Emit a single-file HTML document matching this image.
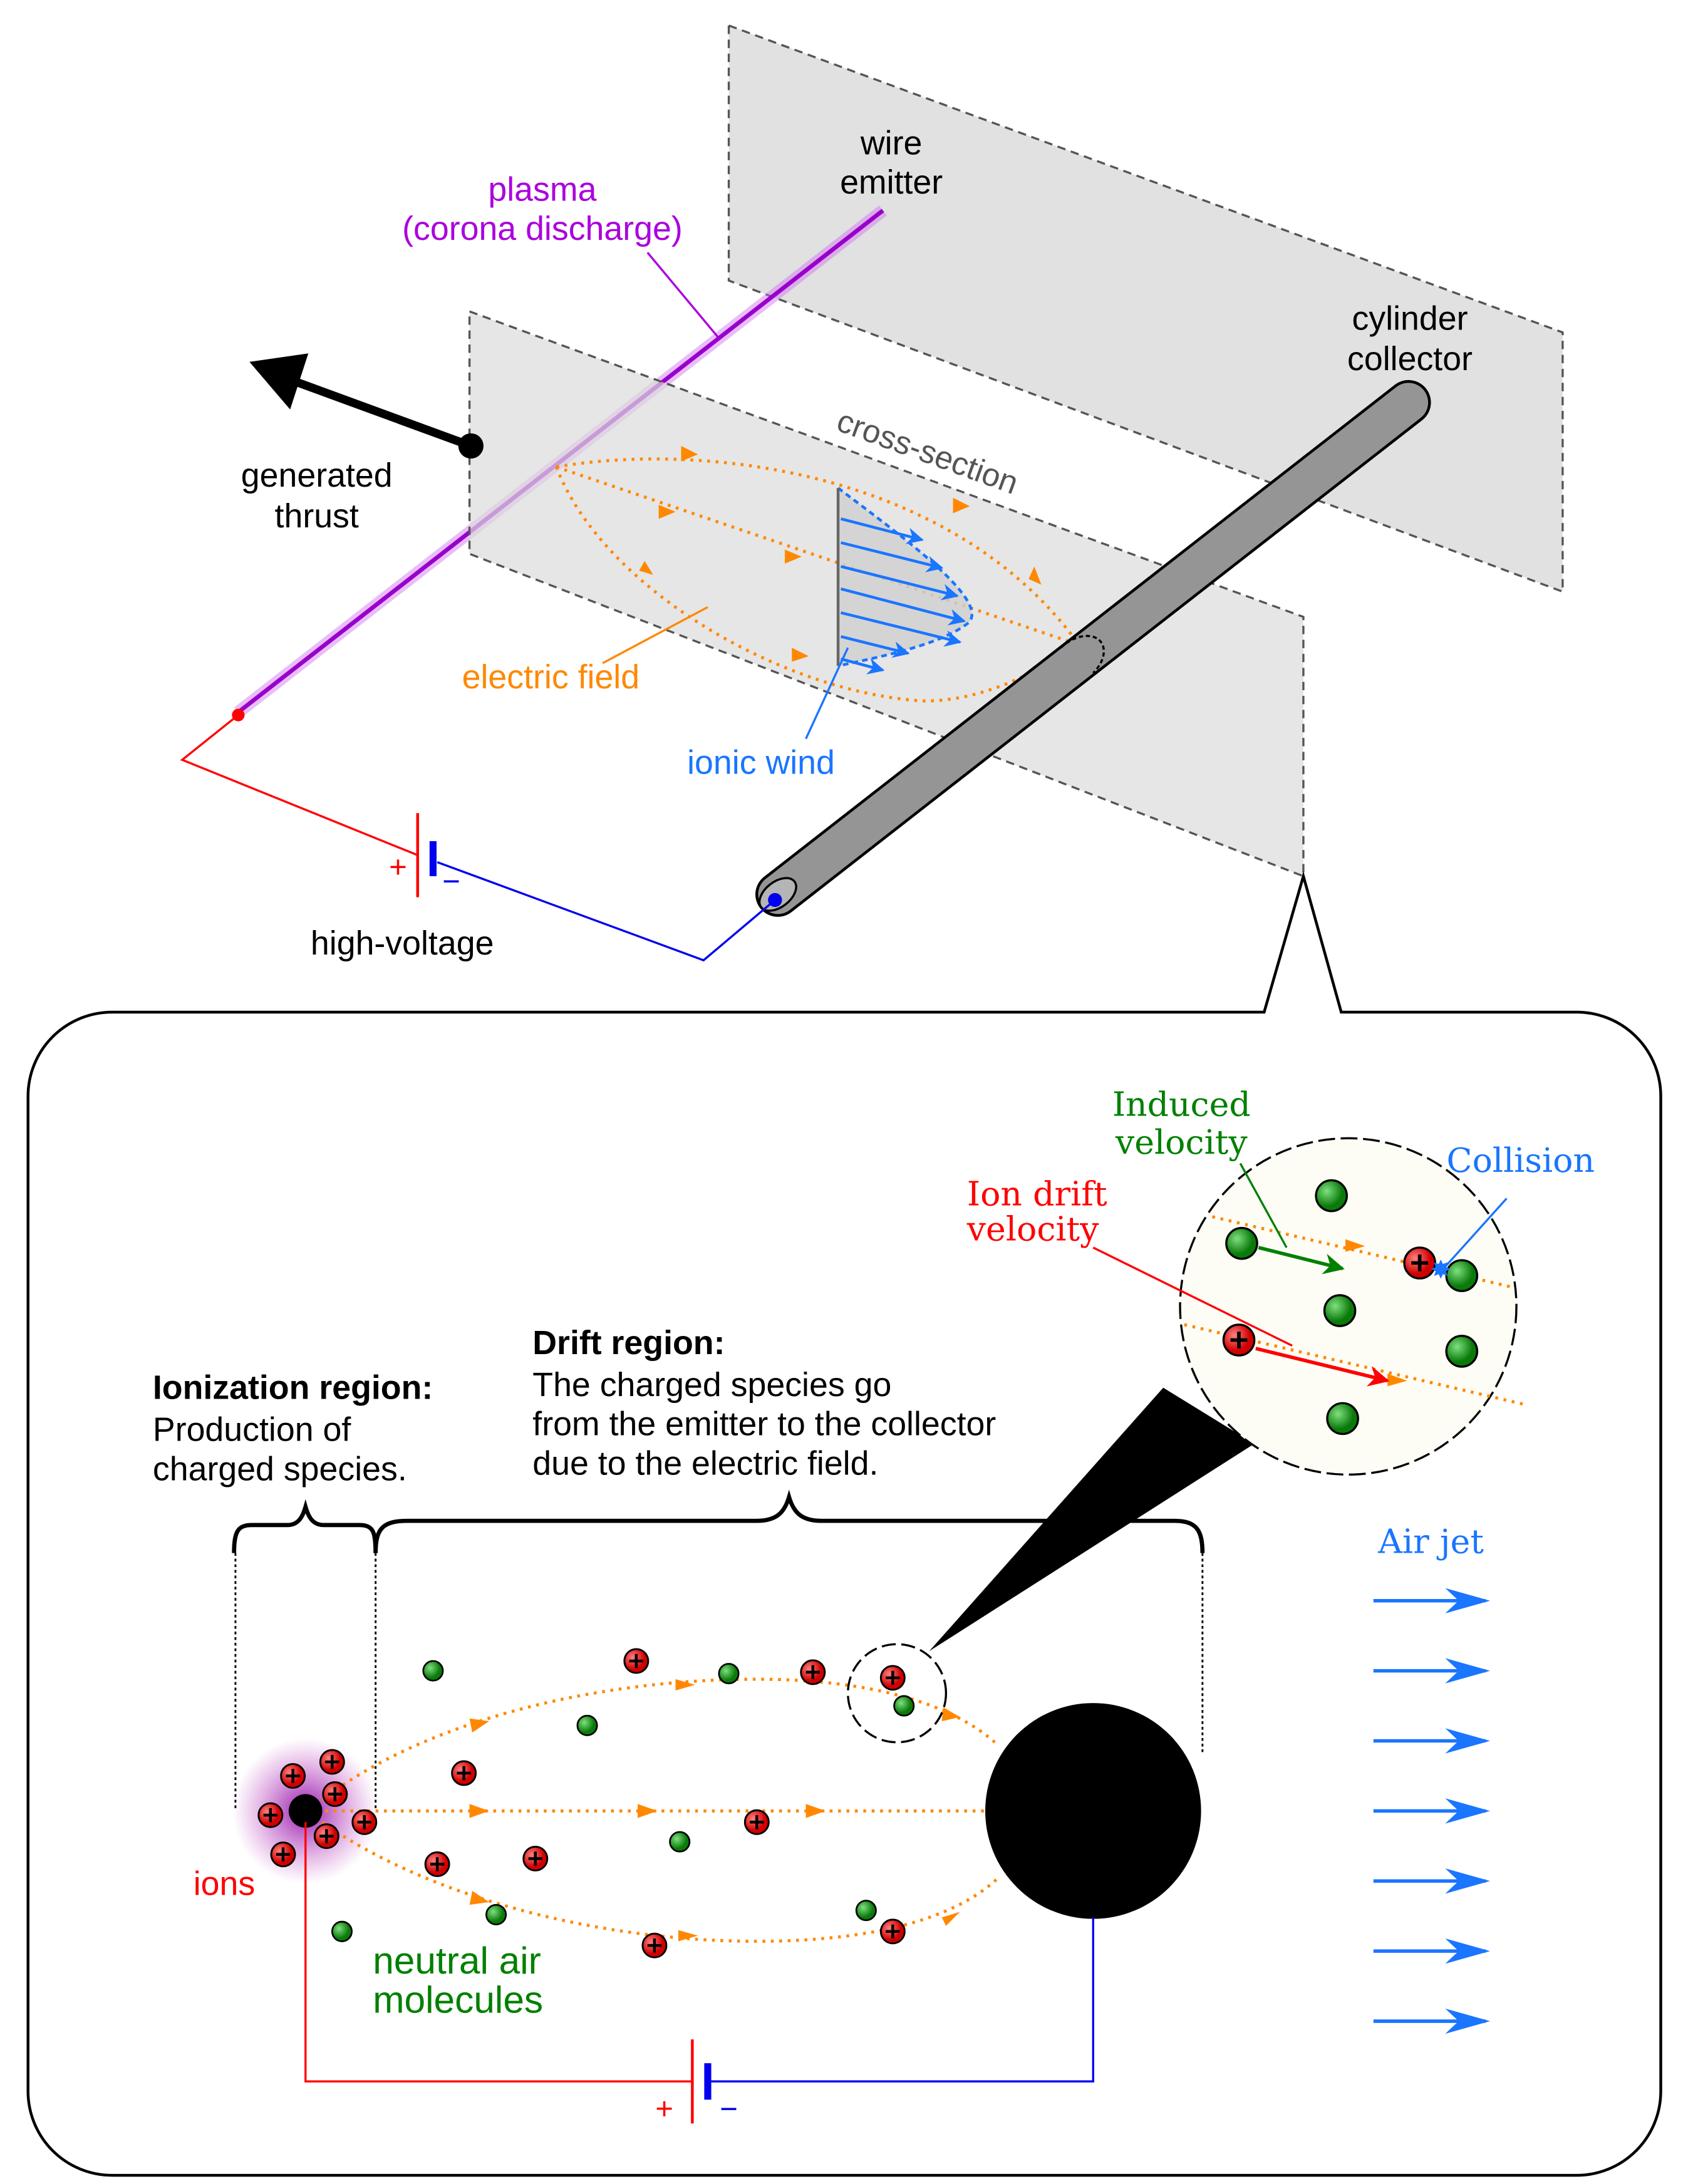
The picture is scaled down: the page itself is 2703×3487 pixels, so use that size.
<!DOCTYPE html>
<html><head><meta charset="utf-8"><style>html,body{margin:0;padding:0;background:#fff}svg{display:block}text{font-family:"Liberation Sans",sans-serif}</style></head><body>
<svg width="2703" height="3487" viewBox="0 0 1208 1558" xmlns="http://www.w3.org/2000/svg">
<defs>
<marker id="ao" viewBox="0 0 10 10" refX="5" refY="5" markerWidth="6" markerHeight="6" orient="auto"><path d="M0,0 L10,5 L0,10 L3,5z" fill="#ff8800"/></marker>
<marker id="ab" viewBox="0 0 10 10" refX="9" refY="5" markerWidth="6" markerHeight="6" orient="auto"><path d="M0,0 L10,5 L0,10 L3,5z" fill="#1a75ff"/></marker>
<marker id="abig" viewBox="0 0 10 10" refX="9" refY="5" markerUnits="userSpaceOnUse" markerWidth="32" markerHeight="18" orient="auto" preserveAspectRatio="none"><path d="M0,0 L10,5 L0,10 L3,5z" fill="#1a75ff"/></marker>
<marker id="ar" viewBox="0 0 10 10" refX="9" refY="5" markerWidth="6" markerHeight="6" orient="auto"><path d="M0,0 L10,5 L0,10 L3,5z" fill="#ff0000"/></marker>
<marker id="ag" viewBox="0 0 10 10" refX="9" refY="5" markerWidth="6" markerHeight="6" orient="auto"><path d="M0,0 L10,5 L0,10 L3,5z" fill="#008000"/></marker>
<radialGradient id="glow"><stop offset="0" stop-color="#8a00a0" stop-opacity=".9"/><stop offset="1" stop-color="#c040c0" stop-opacity="0"/></radialGradient>
<radialGradient id="gb" cx=".35" cy=".35"><stop offset="0" stop-color="#7fe07f"/><stop offset="1" stop-color="#0a7a0a"/></radialGradient>
<radialGradient id="rb" cx=".35" cy=".35"><stop offset="0" stop-color="#ff8080"/><stop offset="1" stop-color="#d00000"/></radialGradient>
<g id="ion"><circle r="8.5" fill="url(#rb)" stroke="#000" stroke-width="1.3"/><path d="M-5,0H5M0,-5V5" stroke="#000" stroke-width="2"/></g>
<g id="neu"><circle r="7" fill="url(#gb)" stroke="#000" stroke-width="1.2"/></g>
<g id="ionB"><circle r="11" fill="url(#rb)" stroke="#000" stroke-width="1.5"/><path d="M-6,0H6M0,-6V6" stroke="#000" stroke-width="2.5"/></g>
<g id="neuB"><circle r="11" fill="url(#gb)" stroke="#000" stroke-width="1.5"/></g>
</defs>

<polygon points="520,18 1115,237 1115,422 520,200" fill="#e1e1e1" stroke="#555" stroke-width="1.5" stroke-dasharray="6,4"/>
<line x1="170" y1="508" x2="630" y2="150" stroke="#d070f0" stroke-width="9" opacity=".45"/>
<line x1="170" y1="508" x2="630" y2="150" stroke="#9900cc" stroke-width="3"/>
<polygon points="335,222 930,440 930,625 335,395" fill="#dcdcdc" fill-opacity=".7" stroke="#555" stroke-width="1.5" stroke-dasharray="6,4"/>
<text x="662" y="330" font-size="23" fill="#555" text-anchor="middle" transform="rotate(20 662 322)">cross-section</text>
<g fill="none" stroke="#ff8800" stroke-width="2.2" stroke-dasharray="2,4">
<path d="M397,333 C500,315 680,335 770,460"/>
<path d="M397,333 L770,460"/>
<path d="M397,333 C430,420 560,495 660,500 C700,500 740,480 770,460"/>
</g>
<g fill="#ff8800"><path d="M486,318 l12,6 -12,5z"/><path d="M680,355 l12,6 -12,5z"/><path d="M738,404 l5,13 -9,-4z"/><path d="M470,360 l12,5 -12,5z"/><path d="M560,392 l12,5 -12,5z"/><path d="M460,400 l6,10 -10,-3z"/><path d="M565,462 l12,6 -12,4z"/></g>
<path d="M598,348 C640,380 710,430 690,445 C670,460 630,468 598,475 Z" fill="#d0d0d0" opacity=".8"/>
<path d="M598,348 C640,380 710,430 690,445 C670,460 630,468 598,475" fill="none" stroke="#1a75ff" stroke-width="2" stroke-dasharray="4,3"/>
<line x1="598" y1="348" x2="598" y2="475" stroke="#666" stroke-width="2"/>
<g stroke="#1a75ff" stroke-width="2" marker-end="url(#ab)">
<line x1="600" y1="370" x2="658" y2="385"/><line x1="600" y1="387" x2="672" y2="405"/><line x1="600" y1="404" x2="683" y2="425"/><line x1="600" y1="420" x2="688" y2="443"/><line x1="600" y1="437" x2="685" y2="458"/><line x1="600" y1="454" x2="648" y2="466"/><line x1="600" y1="470" x2="630" y2="478"/>
</g>
<line x1="575" y1="527" x2="605" y2="462" stroke="#1a75ff" stroke-width="1.5"/>
<text x="543" y="552" font-size="24" fill="#1a75ff" text-anchor="middle">ionic wind</text>
<line x1="430" y1="473" x2="505" y2="433" stroke="#ff8800" stroke-width="1.5"/>
<text x="393" y="491" font-size="24" fill="#ff8800" text-anchor="middle">electric field</text>
<line x1="555" y1="638" x2="1005" y2="287" stroke="#000" stroke-width="32" stroke-linecap="round"/>
<line x1="555" y1="638" x2="1005" y2="287" stroke="#959595" stroke-width="28" stroke-linecap="round"/>
<ellipse cx="555" cy="638" rx="15" ry="9" transform="rotate(-38 555 638)" fill="#b5b5b5" stroke="#000" stroke-width="1.5"/>
<path d="M757,462 A15,10 -38 0 1 780,480" fill="none" stroke="#000" stroke-width="1.5" stroke-dasharray="3,2"/>
<line x1="336" y1="318" x2="205" y2="270" stroke="#000" stroke-width="6"/>
<polygon points="178,258 220,252 207,292" fill="#000"/>
<circle cx="336" cy="318" r="9" fill="#000"/>
<g font-size="24" text-anchor="middle">
<text x="226" y="347">generated</text><text x="226" y="376">thrust</text>
<text x="636" y="110">wire</text><text x="636" y="138">emitter</text>
<text x="1006" y="235">cylinder</text><text x="1006" y="264">collector</text>
<text x="387" y="143" fill="#aa00dd">plasma</text><text x="387" y="171" fill="#aa00dd">(corona discharge)</text>
<text x="287" y="681">high-voltage</text>
</g>
<line x1="462" y1="180" x2="512" y2="240" stroke="#aa00dd" stroke-width="1.5"/>
<polyline points="170,510 130,542 298,610" fill="none" stroke="#f00" stroke-width="1.5"/>
<line x1="298" y1="580" x2="298" y2="640" stroke="#f00" stroke-width="2"/>
<line x1="309" y1="600" x2="309" y2="625" stroke="#0000ee" stroke-width="5"/>
<polyline points="312,615 502,685 553,642" fill="none" stroke="#0000ee" stroke-width="1.5"/>
<circle cx="170" cy="510" r="4.5" fill="#f00"/><circle cx="553" cy="642" r="5" fill="#0000ee"/>
<text x="284" y="626" font-size="22" fill="#f00" text-anchor="middle">+</text>
<text x="322" y="636" font-size="22" fill="#0000ee" text-anchor="middle">−</text>

<path d="M902,722 L930,625 L957,722 H1125 A60,60 0 0 1 1185,782 V1492 A60,60 0 0 1 1125,1552 H80 A60,60 0 0 1 20,1492 V782 A60,60 0 0 1 80,722 Z" fill="none" stroke="#000" stroke-width="2"/>

<path d="M167,1108 C167,1092 170,1088 180,1088 L205,1088 C213,1088 216,1082 218,1075 C220,1082 223,1088 231,1088 L256,1088 C266,1088 268,1092 268,1108" fill="none" stroke="#000" stroke-width="3"/>
<path d="M268,1108 C268,1092 272,1085 290,1085 L540,1085 C555,1085 560,1078 563,1068 C566,1078 571,1085 586,1085 L838,1085 C854,1085 858,1092 858,1108" fill="none" stroke="#000" stroke-width="3"/>
<g stroke="#000" stroke-width="1.3" stroke-dasharray="2,2"><line x1="168" y1="1108" x2="168" y2="1290"/><line x1="268" y1="1108" x2="268" y2="1290"/><line x1="858" y1="1108" x2="858" y2="1250"/></g>
<g font-size="24">
<text x="109" y="998" font-weight="bold">Ionization region:</text><text x="109" y="1028">Production of</text><text x="109" y="1056">charged species.</text>
<text x="380" y="966" font-weight="bold">Drift region:</text><text x="380" y="996">The charged species go</text><text x="380" y="1024">from the emitter to the collector</text><text x="380" y="1052">due to the electric field.</text>
</g>

<circle cx="218" cy="1292" r="52" fill="url(#glow)"/>
<circle cx="218" cy="1292" r="12" fill="#000"/>
<circle cx="780" cy="1292" r="77" fill="#000"/>
<g fill="none" stroke="#ff8800" stroke-width="2.2" stroke-dasharray="2,4">
<path d="M230,1284 C300,1230 420,1198 540,1198 C620,1198 680,1215 712,1245"/>
<line x1="232" y1="1292" x2="703" y2="1292"/>
<path d="M230,1300 C300,1350 420,1385 540,1385 C620,1385 680,1370 712,1340"/>
</g>
<g fill="#ff8800"><path d="M335,1226 l14,2 -12,8z"/><path d="M482,1198 l14,4 -14,4z"/><path d="M673,1218 l12,7 -13,3z"/><path d="M335,1287 l14,5 -14,5z"/><path d="M455,1287 l14,5 -14,5z"/><path d="M575,1287 l14,5 -14,5z"/><path d="M337,1349 l12,8 -14,2z"/><path d="M484,1377 l14,4 -14,4z"/><path d="M672,1368 l13,-4 -10,10z"/></g>
<g>
<use href="#ion" x="209" y="1267"/><use href="#ion" x="237" y="1257"/><use href="#ion" x="239" y="1280"/><use href="#ion" x="193" y="1295"/><use href="#ion" x="233" y="1310"/><use href="#ion" x="202" y="1323"/><use href="#ion" x="260" y="1300"/><use href="#ion" x="454" y="1185"/><use href="#ion" x="580" y="1193"/><use href="#ion" x="637" y="1197"/><use href="#ion" x="331" y="1265"/><use href="#ion" x="540" y="1300"/><use href="#ion" x="312" y="1330"/><use href="#ion" x="382" y="1326"/><use href="#ion" x="467" y="1388"/><use href="#ion" x="637" y="1378"/>
<use href="#neu" x="309" y="1192"/><use href="#neu" x="520" y="1194"/><use href="#neu" x="419" y="1231"/><use href="#neu" x="645" y="1217"/><use href="#neu" x="485" y="1314"/><use href="#neu" x="354" y="1366"/><use href="#neu" x="244" y="1378"/><use href="#neu" x="618" y="1363"/>
</g>
<circle cx="640" cy="1208" r="35" fill="none" stroke="#000" stroke-width="1.5" stroke-dasharray="10,4"/>
<polygon points="663,1178 830,990 895,1030" fill="#000"/>
<circle cx="962" cy="932" r="120" fill="#fdfdf6" stroke="#000" stroke-width="1.5" stroke-dasharray="12,4"/>
<g fill="none" stroke="#ff8800" stroke-width="2.2" stroke-dasharray="2,4"><line x1="865" y1="868" x2="1078" y2="918"/><line x1="845" y1="945" x2="1088" y2="1002"/></g>
<g fill="#ff8800"><path d="M960,884 l14,5 -14,4z"/><path d="M990,980 l14,5 -14,4z"/></g>
<use href="#neuB" x="950" y="853"/><use href="#neuB" x="886" y="887"/><use href="#neuB" x="956" y="935"/><use href="#neuB" x="1043" y="910"/><use href="#neuB" x="1043" y="964"/><use href="#neuB" x="958" y="1012"/>
<use href="#ionB" x="1013" y="901"/><use href="#ionB" x="884" y="956"/>
<line x1="896" y1="962" x2="990" y2="985" stroke="#f00" stroke-width="2.5" marker-end="url(#ar)"/>
<line x1="898" y1="890" x2="958" y2="905" stroke="#008000" stroke-width="2.5" marker-end="url(#ag)"/>
<text x="1028" y="912" font-size="18" fill="#1a75ff" text-anchor="middle">✸</text>
<line x1="885" y1="830" x2="918" y2="890" stroke="#008000" stroke-width="1.5"/>
<line x1="780" y1="890" x2="922" y2="960" stroke="#f00" stroke-width="1.5"/>
<line x1="1075" y1="855" x2="1030" y2="905" stroke="#1a75ff" stroke-width="1.5"/>
<g font-size="24" text-anchor="middle" style="font-family:'DejaVu Serif',serif">
<text x="843" y="796" fill="#008000" style="font-family:'DejaVu Serif',serif">Induced</text><text x="843" y="823" fill="#008000" style="font-family:'DejaVu Serif',serif">velocity</text>
<text x="740" y="860" fill="#f00" style="font-family:'DejaVu Serif',serif">Ion drift</text><text x="737" y="885" fill="#f00" style="font-family:'DejaVu Serif',serif">velocity</text>
<text x="1085" y="836" fill="#1a75ff" style="font-family:'DejaVu Serif',serif">Collision</text>
<text x="1021" y="1108" fill="#1a75ff" style="font-family:'DejaVu Serif',serif">Air jet</text>
</g>
<g stroke="#1a75ff" stroke-width="2.5" marker-end="url(#abig)">
<line x1="980" y1="1142" x2="1060" y2="1142"/><line x1="980" y1="1192" x2="1060" y2="1192"/><line x1="980" y1="1242" x2="1060" y2="1242"/><line x1="980" y1="1292" x2="1060" y2="1292"/><line x1="980" y1="1342" x2="1060" y2="1342"/><line x1="980" y1="1392" x2="1060" y2="1392"/><line x1="980" y1="1442" x2="1060" y2="1442"/>
</g>
<text x="160" y="1352" font-size="24" fill="#f00" text-anchor="middle">ions</text>
<text x="266" y="1408" font-size="27" fill="#008000">neutral air</text><text x="266" y="1436" font-size="27" fill="#008000">molecules</text>
<polyline points="218,1300 218,1485 494,1485" fill="none" stroke="#f00" stroke-width="1.5"/>
<line x1="494" y1="1455" x2="494" y2="1515" stroke="#f00" stroke-width="2"/>
<line x1="505" y1="1472" x2="505" y2="1498" stroke="#0000ee" stroke-width="5"/>
<polyline points="505,1485 780,1485 780,1368" fill="none" stroke="#0000ee" stroke-width="1.5"/>
<text x="474" y="1512" font-size="22" fill="#f00" text-anchor="middle">+</text>
<text x="520" y="1512" font-size="22" fill="#0000ee" text-anchor="middle">−</text>
</svg>
</body></html>
